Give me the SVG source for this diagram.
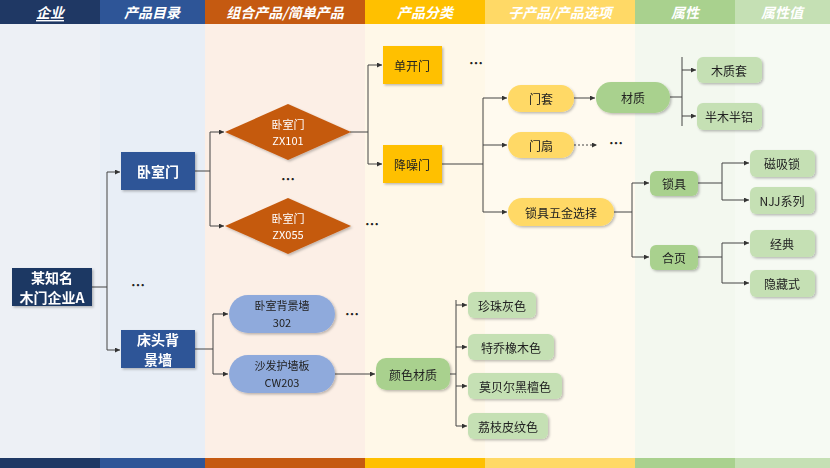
<svg xmlns="http://www.w3.org/2000/svg" width="830" height="468" viewBox="0 0 830 468">
<defs>
<marker id="a" viewBox="0 0 6 6" refX="6" refY="3" markerWidth="5" markerHeight="5" orient="auto"><path d="M0,0L6,3L0,6z" fill="#333"/></marker>
<filter id="s" x="-10%" y="-10%" width="130%" height="140%"><feDropShadow dx="1.5" dy="1.5" stdDeviation="1" flood-color="#000" flood-opacity="0.25"/></filter>
</defs>
<style>
text{font-family:"Noto Sans CJK SC","Liberation Sans",sans-serif;text-anchor:middle;dominant-baseline:central}
.h{font-size:14px;font-weight:bold;font-style:italic;fill:#fff}
.w{fill:#fff;font-size:14px;font-weight:bold}
.t{font-size:12px;fill:#222}
.t2{font-size:11px;fill:#222}
.d{font-size:11px;fill:#fff}
.c path{stroke:#444;stroke-width:1;fill:none}
.m{marker-end:url(#a)}
.nb{filter:url(#s)}
.dots{font-size:14px;font-weight:bold;fill:#222}
</style>
<rect x="0" y="0" width="100" height="468" fill="#edf0f5"/>
<rect x="100" y="0" width="105" height="468" fill="#e8eef6"/>
<rect x="205" y="0" width="160" height="468" fill="#fcefe6"/>
<rect x="365" y="0" width="120" height="468" fill="#fff8e8"/>
<rect x="485" y="0" width="150" height="468" fill="#fffaef"/>
<rect x="635" y="0" width="100" height="468" fill="#f3f8ef"/>
<rect x="735" y="0" width="95" height="468" fill="#f6faf3"/>
<g id="header">
<rect x="0" y="0" width="100" height="24" fill="#1f3864"/>
<rect x="100" y="0" width="105" height="24" fill="#2e5597"/>
<rect x="205" y="0" width="160" height="24" fill="#c55a11"/>
<rect x="365" y="0" width="120" height="24" fill="#ffc000"/>
<rect x="485" y="0" width="150" height="24" fill="#ffd966"/>
<rect x="635" y="0" width="100" height="24" fill="#a9d18e"/>
<rect x="735" y="0" width="95" height="24" fill="#c5e0b4"/>
<text class="h" x="50" y="12" text-decoration="underline">企业</text>
<text class="h" x="152" y="12">产品目录</text>
<text class="h" x="285" y="12">组合产品/简单产品</text>
<text class="h" x="425" y="12">产品分类</text>
<text class="h" x="560" y="12">子产品/产品选项</text>
<text class="h" x="685" y="12">属性</text>
<text class="h" x="782" y="12">属性值</text>
<rect x="0" y="458" width="100" height="10" fill="#1f3864"/>
<rect x="100" y="458" width="105" height="10" fill="#2e5597"/>
<rect x="205" y="458" width="160" height="10" fill="#c55a11"/>
<rect x="365" y="458" width="120" height="10" fill="#ffc000"/>
<rect x="485" y="458" width="150" height="10" fill="#ffd966"/>
<rect x="635" y="458" width="100" height="10" fill="#a9d18e"/>
<rect x="735" y="458" width="95" height="10" fill="#c5e0b4"/>
</g>
<g id="connectors" class="c">
<path d="M92,287H107V172"/><path class="m" d="M107,172H120"/><path class="m" d="M107,287V350H120"/>
<path d="M195,171H210"/><path class="m" d="M210,171V132H224"/><path class="m" d="M210,171V226H224"/>
<path d="M195,349H213"/><path d="M213,314V374"/><path class="m" d="M213,314H228"/><path class="m" d="M213,374H228"/>
<path class="m" d="M335,374H375"/>
<path d="M450,374H456"/><path d="M456,300V426"/><path class="m" d="M456,305H467"/><path class="m" d="M456,347H467"/><path class="m" d="M456,386H467"/><path class="m" d="M456,426H467"/>
<path d="M350,132H368"/><path d="M368,65V164"/><path class="m" d="M368,65H382"/><path class="m" d="M368,164H382"/>
<path d="M442,164H483"/><path d="M483,98V212"/><path class="m" d="M483,98H507"/><path class="m" d="M483,145H507"/><path class="m" d="M483,212H507"/>
<path class="m" d="M574,98H595"/>
<path class="m" d="M574,145H597" stroke-dasharray="2,2"/>
<path d="M670,97H682"/><path d="M682,57V126"/><path class="m" d="M682,70H696"/><path class="m" d="M682,116H696"/>
<path d="M614,212H632"/><path d="M632,183V257"/><path class="m" d="M632,183H649"/><path class="m" d="M632,257H649"/>
<path d="M698,183H722"/><path d="M722,163V200"/><path class="m" d="M722,163H749"/><path class="m" d="M722,200H749"/>
<path d="M698,257H722"/><path d="M722,243V283"/><path class="m" d="M722,243H749"/><path class="m" d="M722,283H749"/>
</g>
<g id="n-company" class="nb"><rect x="12" y="268" width="80" height="38" fill="#1f3864"/><text class="w" x="52" y="277" font-size="12">某知名</text><text class="w" x="52" y="297" font-size="12">木门企业A</text></g>
<g id="n-bedroom-door" class="nb"><rect x="121" y="152" width="74" height="38" fill="#2e5597"/><text class="w" x="158" y="171">卧室门</text></g>
<g id="n-bedhead" class="nb"><rect x="121" y="330" width="74" height="38" fill="#2e5597"/><text class="w" x="158" y="339" font-size="13">床头背</text><text class="w" x="158" y="359" font-size="13">景墙</text></g>
<text class="dots" x="138" y="284">…</text>
<g id="n-zx101" class="nb"><path d="M225,132L288,104L351,132L288,160z" fill="#c55a11"/><text class="d" x="288" y="124">卧室门</text><text class="d" x="288" y="140">ZX101</text></g>
<text class="dots" x="288" y="178">…</text>
<g id="n-zx055" class="nb"><path d="M225,226L288,198L351,226L288,254z" fill="#c55a11"/><text class="d" x="288" y="218">卧室门</text><text class="d" x="288" y="234">ZX055</text></g>
<text class="dots" x="372" y="223">…</text>
<g id="n-302" class="nb"><rect x="229" y="295" width="106" height="38" rx="19" fill="#8faadc"/><text class="t2" x="282" y="305">卧室背景墙</text><text class="t2" x="282" y="322">302</text></g>
<text class="dots" x="352" y="313">…</text>
<g id="n-cw203" class="nb"><rect x="229" y="355" width="106" height="38" rx="19" fill="#8faadc"/><text class="t2" x="282" y="365">沙发护墙板</text><text class="t2" x="282" y="382">CW203</text></g>
<g id="n-color" class="nb"><rect x="376" y="358" width="74" height="32" rx="10" fill="#a9d18e"/><text class="t" x="413" y="374">颜色材质</text></g>
<g id="n-c1" class="nb"><rect x="468" y="292" width="68" height="26" rx="6" fill="#c5e0b4"/><text class="t" x="502" y="305">珍珠灰色</text></g>
<g id="n-c2" class="nb"><rect x="468" y="334" width="86" height="26" rx="6" fill="#c5e0b4"/><text class="t" x="511" y="347">特乔橡木色</text></g>
<g id="n-c3" class="nb"><rect x="468" y="373" width="94" height="26" rx="6" fill="#c5e0b4"/><text class="t" x="515" y="386">莫贝尔黑檀色</text></g>
<g id="n-c4" class="nb"><rect x="468" y="413" width="80" height="26" rx="6" fill="#c5e0b4"/><text class="t" x="508" y="426">荔枝皮纹色</text></g>
<g id="n-single" class="nb"><rect x="383" y="46" width="59" height="38" fill="#ffc000"/><text class="t" x="412" y="65">单开门</text></g>
<text class="dots" x="476" y="62">…</text>
<g id="n-noise" class="nb"><rect x="383" y="145" width="59" height="38" fill="#ffc000"/><text class="t" x="412" y="164">降噪门</text></g>
<g id="n-frame" class="nb"><rect x="508" y="85" width="66" height="27" rx="13" fill="#ffd966"/><text class="t" x="541" y="98">门套</text></g>
<g id="n-leaf" class="nb"><rect x="508" y="132" width="66" height="26" rx="13" fill="#ffd966"/><text class="t" x="541" y="145">门扇</text></g>
<text class="dots" x="616" y="142">…</text>
<g id="n-lockhw" class="nb"><rect x="508" y="198" width="106" height="28" rx="14" fill="#ffd966"/><text class="t" x="561" y="212">锁具五金选择</text></g>
<g id="n-material" class="nb"><rect x="596" y="82" width="74" height="31" rx="15" fill="#a9d18e"/><text class="t" x="633" y="97">材质</text></g>
<g id="n-wood" class="nb"><rect x="697" y="57" width="65" height="26" rx="6" fill="#c5e0b4"/><text class="t" x="729" y="70">木质套</text></g>
<g id="n-half" class="nb"><rect x="697" y="103" width="65" height="27" rx="6" fill="#c5e0b4"/><text class="t" x="729" y="116">半木半铝</text></g>
<g id="n-lock" class="nb"><rect x="650" y="171" width="48" height="25" rx="6" fill="#a9d18e"/><text class="t" x="674" y="183">锁具</text></g>
<g id="n-hinge" class="nb"><rect x="650" y="245" width="48" height="25" rx="6" fill="#a9d18e"/><text class="t" x="674" y="257">合页</text></g>
<g id="n-mag" class="nb"><rect x="750" y="150" width="65" height="27" rx="6" fill="#c5e0b4"/><text class="t" x="782" y="163">磁吸锁</text></g>
<g id="n-njj" class="nb"><rect x="750" y="187" width="65" height="27" rx="6" fill="#c5e0b4"/><text class="t" x="782" y="200">NJJ系列</text></g>
<g id="n-classic" class="nb"><rect x="750" y="230" width="65" height="27" rx="6" fill="#c5e0b4"/><text class="t" x="782" y="243">经典</text></g>
<g id="n-hidden" class="nb"><rect x="750" y="270" width="65" height="27" rx="6" fill="#c5e0b4"/><text class="t" x="782" y="283">隐藏式</text></g>
</svg>
